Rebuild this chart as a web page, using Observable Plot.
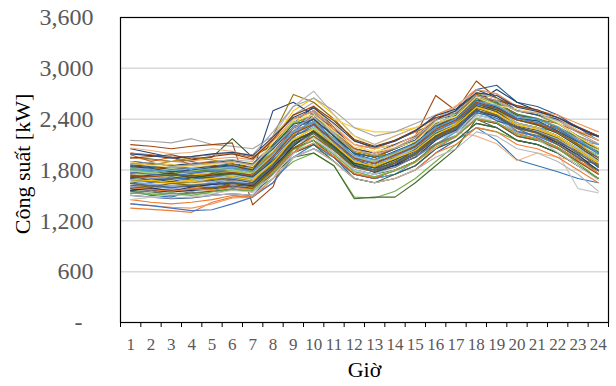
<!DOCTYPE html>
<html><head><meta charset="utf-8">
<script src="https://cdn.jsdelivr.net/npm/d3@7"></script>
<script src="https://cdn.jsdelivr.net/npm/@observablehq/plot@0.6"></script>
<style>body{margin:0;background:#fff}</style>
</head><body><div id="chart"></div>
<script>
const hours = [1,2,3,4,5,6,7,8,9,10,11,12,13,14,15,16,17,18,19,20,21,22,23,24];
const yTicks = [600,1200,1800,2400,3000,3600];
const gridValues = [600,1200,1800,2400,3000];
const palette = [
  "#4472C4","#ED7D31","#A5A5A5","#FFC000","#5B9BD5","#70AD47",
  "#264478","#9E480E","#636363","#997300","#255E91","#43682B",
  "#698ED0","#F1975A","#B7B7B7","#FFCD33","#7CAFDD","#8CC168",
  "#2F5597","#C55A11","#7B7B7B","#BF9000","#2E75B6","#548235",
  "#8FAADC","#F4B183","#C9C9C9","#FFD966","#9DC3E6","#A9D18E",
  "#203864","#843C0C","#525252","#7F6000","#1F4E79","#385723"
];
const profiles = [
  [1650,1620,1600,1610,1630,1650,1600,1950,2250,2350,2150,1900,1850,1950,2050,2300,2400,2600,2500,2350,2300,2200,2050,1900],
  [1350,1335,1320,1300,1420,1480,1500,1650,2000,2200,2050,1800,1750,1850,1950,2150,2300,2500,2450,2300,2250,2150,1950,1850],
  [2150,2140,2120,2170,2100,2080,2050,2200,2450,2600,2400,2150,2050,2150,2250,2450,2550,2750,2700,2500,2450,2350,2200,2050],
  [1850,1820,1800,1780,1800,1820,1780,2150,2500,2650,2450,2200,2100,2200,2300,2400,2500,2650,2550,2400,2350,2250,2100,1950],
  [1750,1700,1680,1700,1720,1750,1700,1900,2100,2200,2000,1800,1750,1850,1950,2100,2200,2400,2350,2200,2150,2050,1900,1800],
  [1550,1520,1500,1520,1550,1580,1550,1700,1900,2000,1850,1480,1470,1550,1700,1900,2100,2300,2250,2150,2100,2000,1850,1700],
  [2050,2000,1950,1900,1850,1800,1780,2500,2600,2450,2200,1950,1900,1950,2050,2400,2450,2650,2600,2450,2400,2300,2150,2000],
  [2100,2080,2050,2080,2100,2120,1390,1600,2250,2450,2300,2100,2050,2100,2200,2680,2500,2850,2650,2550,2500,2400,2250,2200],
  [1700,1680,1650,1620,1650,1680,1620,1950,2300,2400,2200,1950,1900,2000,2100,2300,2450,2650,2500,2400,2350,2250,2100,1950],
  [1800,1780,1760,1780,1800,1790,1700,2200,2690,2600,2400,2150,2050,2150,2250,2350,2450,2700,2600,2450,2400,2300,2150,2050],
  [1900,1880,1850,1870,1900,1920,1850,2050,2350,2550,2300,2000,1950,2050,2150,2400,2550,2750,2800,2600,2550,2450,2300,2150],
  [1600,1580,1560,1580,1600,1620,1580,1750,1950,2000,1850,1460,1480,1480,1650,1850,2050,2400,2300,2150,2100,2000,1850,1700],
  [1720,1700,1690,1700,1720,1740,1690,1880,2150,2250,2050,1850,1800,1900,2000,2200,2300,2500,2450,2300,2250,2150,2000,1850],
  [1400,1380,1360,1350,1400,1470,1480,1700,2050,2200,2000,1800,1750,1850,1950,2150,2250,2450,2400,2250,2200,2100,1950,1800],
  [1950,1920,1900,1880,1900,1920,1900,2200,2550,2730,2450,2200,2100,2200,2300,2400,2550,2750,2700,2550,2500,2400,2250,2150],
  [1880,1850,1830,1850,1870,1890,1850,2100,2400,2500,2400,2300,2250,2250,2300,2350,2400,2550,2500,2400,2350,2250,2100,2000],
  [1600,1580,1560,1570,1600,1620,1600,1800,2050,2150,1950,1750,1700,1800,1900,2050,2200,2400,2350,2200,2150,2050,1900,1750],
  [1780,1760,1740,1750,1770,1790,1760,1950,2200,2300,2100,1900,1850,1950,2050,2250,2350,2550,2500,2350,2300,2200,2050,1900],
  [1500,1480,1460,1470,1500,1520,1500,1750,2050,2150,1950,1700,1650,1700,1800,2000,2150,2350,2300,2150,2100,2000,1850,1700],
  [2000,1980,1950,1960,1980,2000,1950,2150,2350,2450,2250,2050,2000,2050,2150,2350,2450,2650,2550,2450,2400,2350,2250,2150],
  [1820,1800,1780,1790,1810,1830,1800,2000,2250,2350,2150,1950,1900,2000,2100,2300,2400,2600,2500,2350,2300,2200,2050,1950],
  [1680,1660,1640,1650,1670,1690,1660,1900,2200,2300,2100,1900,1850,1950,2050,2250,2350,2550,2450,2300,2250,2150,2000,1850],
  [1550,1500,1480,1550,1600,1650,1620,1800,2000,2100,1950,1750,1700,1750,1850,2050,2150,2300,2150,1920,1850,1780,1700,1650],
  [1700,1680,1660,1670,1690,1710,1680,1850,2050,2150,2000,1800,1750,1800,1900,2100,2250,2450,2400,2250,2200,2100,1950,1800],
  [1620,1600,1580,1590,1610,1630,1600,1850,2100,2200,2000,1800,1750,1850,1950,2150,2250,2450,2400,2250,2200,2100,1950,1800],
  [1750,1730,1710,1720,1740,1760,1730,1950,2150,2250,2050,1850,1800,1900,2000,2200,2250,2200,2110,1910,2000,1950,1900,1800],
  [1580,1560,1540,1550,1570,1590,1560,1800,2100,2200,2000,1800,1750,1850,1950,2150,2250,2450,2400,2250,2200,2000,1580,1530],
  [1900,1880,1860,1870,1890,1910,1880,2100,2350,2500,2350,2200,2050,2100,2200,2350,2450,2600,2550,2450,2400,2300,2150,2050],
  [1660,1640,1620,1630,1650,1670,1640,1850,2100,2200,2000,1800,1750,1850,1950,2150,2250,2450,2400,2250,2200,2100,1950,1800],
  [1760,1740,1720,1730,1750,1770,1740,1950,2200,2300,2100,1900,1850,1950,2050,2250,2350,2550,2500,2350,2300,2200,2050,1900],
  [1580,1560,1540,1560,1580,1600,1580,1800,2100,2250,2050,1850,1800,1850,1950,2150,2300,2600,2750,2600,2500,2400,2300,2200],
  [1850,1830,1810,1820,1840,1860,1830,2050,2300,2400,2200,2000,1950,2050,2150,2400,2500,2700,2600,2500,2450,2350,2200,2100],
  [1720,1700,1690,1700,1710,1730,1700,1900,2150,2300,2100,1900,1850,1950,2050,2250,2350,2600,2500,2350,2300,2200,2050,1900],
  [1800,1790,1770,1780,1800,1820,1790,2000,2250,2350,2150,1950,1900,2000,2100,2300,2400,2600,2550,2400,2350,2250,2100,1950],
  [1640,1620,1600,1610,1630,1650,1620,1850,2150,2250,2050,1850,1800,1900,2000,2200,2350,2600,2550,2400,2350,2250,2100,1950],
  [1950,1930,1900,1920,1950,2170,1950,2100,2300,2400,2200,2000,1950,2000,2100,2300,2400,2600,2550,2450,2400,2300,2150,2050],
  [1400,1380,1350,1320,1330,1400,1480,1650,1950,2100,1950,1750,1700,1750,1850,2050,2200,2400,2350,2250,2200,2100,1950,1800],
  [1450,1420,1400,1420,1450,1500,1480,1700,1950,2050,1900,1700,1650,1700,1800,2000,2100,2300,2250,2100,2050,1950,1800,1650],
  [2000,1970,1950,1960,1980,2000,1980,2250,2550,2650,2500,2300,2200,2250,2350,2450,2500,2650,2600,2500,2450,2350,2200,2100],
  [1780,1750,1730,1740,1760,1780,1750,1980,2250,2350,2150,1950,1900,2000,2100,2300,2350,2550,2500,2350,2300,2200,2050,1900],
  [1650,1630,1610,1620,1640,1660,1630,1800,1950,2050,1950,1750,1700,1750,1900,2100,2250,2500,2450,2350,2300,2250,2150,2100],
  [1820,1800,1780,1790,1810,1830,1790,2050,2350,2450,2250,2000,1950,2050,2150,2350,2450,2700,2650,2500,2450,2350,2200,2050],
  [1900,1880,1860,1870,1890,1910,1870,2100,2400,2500,2300,2050,2000,2100,2200,2400,2500,2750,2650,2500,2450,2400,2300,2200],
  [1600,1580,1560,1570,1590,1610,1580,1800,2050,2150,1950,1750,1700,1800,1900,2100,2200,2400,2350,2200,2150,2050,1900,1750],
  [1740,1720,1700,1710,1730,1750,1720,1950,2200,2300,2100,1900,1850,1950,2050,2250,2350,2550,2500,2350,2300,2200,2050,1900],
  [1690,1670,1650,1660,1680,1700,1670,1900,2150,2250,2050,1850,1800,1900,2000,2200,2300,2500,2450,2300,2250,2150,2000,1850],
  [1860,1840,1820,1830,1850,1870,1840,2050,2300,2400,2200,2000,1950,2050,2150,2350,2450,2650,2600,2450,2400,2300,2150,2000],
  [1560,1540,1520,1530,1550,1570,1540,1750,2000,2100,1900,1700,1650,1750,1850,2050,2150,2350,2300,2150,2100,2000,1850,1700],
  [1800,1780,1760,1770,1790,1810,1780,2000,2250,2350,2150,1950,1900,2000,2100,2300,2400,2600,2550,2400,2350,2250,2100,1950],
  [1950,1920,1900,1910,1930,1950,1920,2150,2400,2500,2300,2100,2050,2150,2250,2450,2550,2750,2700,2550,2500,2450,2350,2250],
  [1500,1480,1470,1480,1500,1520,1500,1700,1950,2050,1900,1700,1650,1700,1800,1950,2050,2250,2200,2050,2000,1900,1750,1550],
  [1720,1690,1670,1680,1700,1720,1690,1900,2150,2300,2100,1900,1850,1950,2050,2250,2350,2550,2500,2350,2300,2200,2050,1900],
  [1830,1810,1790,1800,1820,1840,1810,2000,2250,2350,2150,1950,1900,2000,2100,2300,2400,2600,2550,2400,2350,2250,2100,1950],
  [1820,1760,1790,1700,1740,1810,1720,2080,2380,2300,2180,1880,1930,2010,2080,2250,2480,2560,2620,2400,2380,2260,2090,1980],
  [1640,1700,1660,1720,1680,1600,1650,1820,2180,2420,2120,1940,1820,1880,2040,2190,2280,2520,2380,2310,2240,2130,2020,1830],
  [1980,1900,1950,1860,1900,1880,1760,2010,2290,2480,2270,2060,1960,2060,2180,2330,2420,2690,2580,2460,2330,2300,2180,2060],
  [1520,1560,1490,1540,1510,1580,1640,1760,2000,2250,2080,1850,1780,1830,1960,2110,2210,2470,2440,2260,2210,2130,1960,1760],
  [1880,1860,1900,1950,1920,1860,1810,2010,2210,2380,2210,2020,1970,1990,2130,2270,2380,2590,2480,2390,2350,2290,2110,2020],
  [1700,1650,1720,1680,1760,1700,1720,1930,2320,2360,2060,1870,1800,1860,2010,2160,2300,2480,2410,2290,2180,2070,1920,1870],
  [1760,1800,1740,1820,1780,1740,1680,1880,2100,2230,2050,1850,1830,1960,2080,2290,2420,2640,2590,2460,2410,2310,2190,2000],
  [1600,1630,1610,1590,1660,1700,1660,1990,2260,2480,2240,1990,1880,1960,2060,2230,2390,2620,2520,2360,2290,2170,2000,1880],
  [2060,2030,1990,2010,2050,2020,1960,2170,2440,2560,2330,2100,2000,2090,2210,2400,2560,2720,2640,2490,2480,2410,2270,2150],
  [1450,1480,1510,1490,1520,1560,1540,1740,1990,2180,1990,1790,1720,1800,1890,2060,2210,2430,2360,2240,2160,2010,1850,1680],
  [1900,1850,1870,1830,1860,1900,1840,2120,2390,2450,2260,2070,2020,2060,2140,2360,2430,2660,2560,2520,2470,2360,2190,2060],
  [1680,1710,1700,1660,1700,1740,1700,1900,2230,2320,2150,1940,1890,1930,2070,2290,2330,2540,2450,2330,2260,2170,2060,1910],
  [1790,1770,1820,1790,1830,1800,1770,1960,2160,2300,2120,1960,1910,1990,2110,2330,2460,2680,2570,2430,2380,2320,2150,2030],
  [1560,1590,1550,1600,1630,1650,1610,1830,2080,2270,2090,1860,1770,1860,1980,2170,2270,2500,2430,2300,2240,2120,1980,1790],
  [1940,1960,1980,1930,1960,1990,1930,2160,2450,2550,2380,2160,2080,2150,2270,2420,2470,2680,2620,2560,2510,2420,2310,2200],
  [1730,1680,1700,1740,1700,1690,1650,1860,2130,2260,2080,1880,1840,1920,2020,2200,2320,2560,2490,2320,2270,2180,2030,1870],
  [1620,1600,1640,1620,1580,1640,1600,1810,2060,2200,2030,1830,1780,1880,1990,2180,2310,2530,2450,2290,2230,2100,1940,1790],
  [1840,1820,1780,1800,1830,1850,1800,2080,2340,2400,2200,1990,1920,2020,2120,2320,2410,2620,2540,2410,2380,2260,2130,2010],
  [1710,1740,1760,1710,1740,1760,1720,1910,2140,2250,2070,1880,1820,1920,2040,2230,2330,2580,2510,2390,2330,2230,2080,1920],
  [1770,1750,1730,1760,1790,1770,1730,1940,2190,2330,2130,1920,1870,1970,2070,2260,2370,2580,2530,2410,2360,2280,2140,1990],
  [1590,1570,1550,1580,1560,1600,1570,1770,2010,2120,1960,1760,1710,1790,1890,2070,2190,2400,2360,2230,2170,2070,1920,1760],
  [1870,1890,1840,1860,1880,1900,1860,2070,2300,2420,2230,2040,1980,2060,2180,2380,2480,2680,2620,2500,2470,2380,2240,2110],
  [1660,1680,1650,1680,1700,1720,1680,1890,2170,2280,2100,1900,1840,1940,2030,2220,2330,2540,2470,2330,2280,2190,2030,1880],
  [1810,1790,1800,1820,1800,1820,1780,1990,2260,2370,2170,1970,1920,2010,2110,2300,2410,2610,2560,2430,2400,2310,2160,2000],
  [1530,1510,1530,1500,1540,1570,1560,1780,2040,2150,1980,1780,1720,1790,1900,2090,2200,2410,2360,2220,2160,2060,1880,1700],
  [1990,1970,1940,1960,1990,2010,1970,2190,2420,2530,2350,2140,2070,2140,2260,2440,2520,2710,2680,2540,2490,2420,2300,2190],
  [1730,1720,1740,1730,1750,1770,1740,1960,2230,2340,2140,1940,1880,1980,2080,2280,2390,2600,2530,2390,2340,2250,2100,1940],
  [1640,1610,1590,1620,1640,1650,1630,1850,2120,2230,2040,1840,1780,1880,1980,2170,2280,2500,2440,2300,2240,2150,2000,1840]
];

const rows = profiles.flatMap((vals, i) => vals.map((v, j) => ({series: i, hour: hours[j], kw: v, color: palette[i % palette.length]})));
const boundaries = hours.map(h => h - 0.5).concat([hours[hours.length - 1] + 0.5]);
const font = "'Liberation Serif', 'Times New Roman', serif";

const chart = Plot.plot({
  width: 616,
  height: 386,
  marginLeft: 120,
  marginRight: 8,
  marginTop: 17,
  marginBottom: 64,
  style: {fontFamily: font, background: "#fff"},
  x: {type: "linear", domain: [0.5, 24.5]},
  y: {domain: [0, 3600]},
  color: {type: "identity"},
  marks: [
    Plot.ruleY(gridValues, {stroke: "#d9d9d9", strokeWidth: 1.5}),
    Plot.line(rows, {x: "hour", y: "kw", z: "series", stroke: "color", strokeWidth: 1.1}),
    Plot.frame({stroke: "#000", strokeWidth: 1.2}),
    Plot.axisY({ticks: yTicks, tickSize: 0, tickPadding: 27, tickFormat: d3.format(","), fontSize: 24, color: "#595959", label: null}),
    Plot.text([0], {y: d => d, text: () => "-", frameAnchor: "left", textAnchor: "middle", dx: -42, fontSize: 24, fill: "#595959"}),
    Plot.axisX({ticks: hours, tickSize: 0, tickPadding: 15, tickFormat: d => String(d), fontSize: 17, color: "#595959", label: null}),
    Plot.axisX({ticks: boundaries, tickSize: 5, tickFormat: () => "", stroke: "#000", label: null}),
    Plot.text(["Công suất [kW]"], {text: d => d, frameAnchor: "left", textAnchor: "middle", rotate: -90, dx: -98, dy: -6, fontSize: 22, fill: "#000"}),
    Plot.text(["Giờ"], {text: d => d, frameAnchor: "bottom", textAnchor: "middle", dy: 54, fontSize: 22, fill: "#000"})
  ]
});
document.getElementById("chart").appendChild(chart);
</script>
</body></html>
